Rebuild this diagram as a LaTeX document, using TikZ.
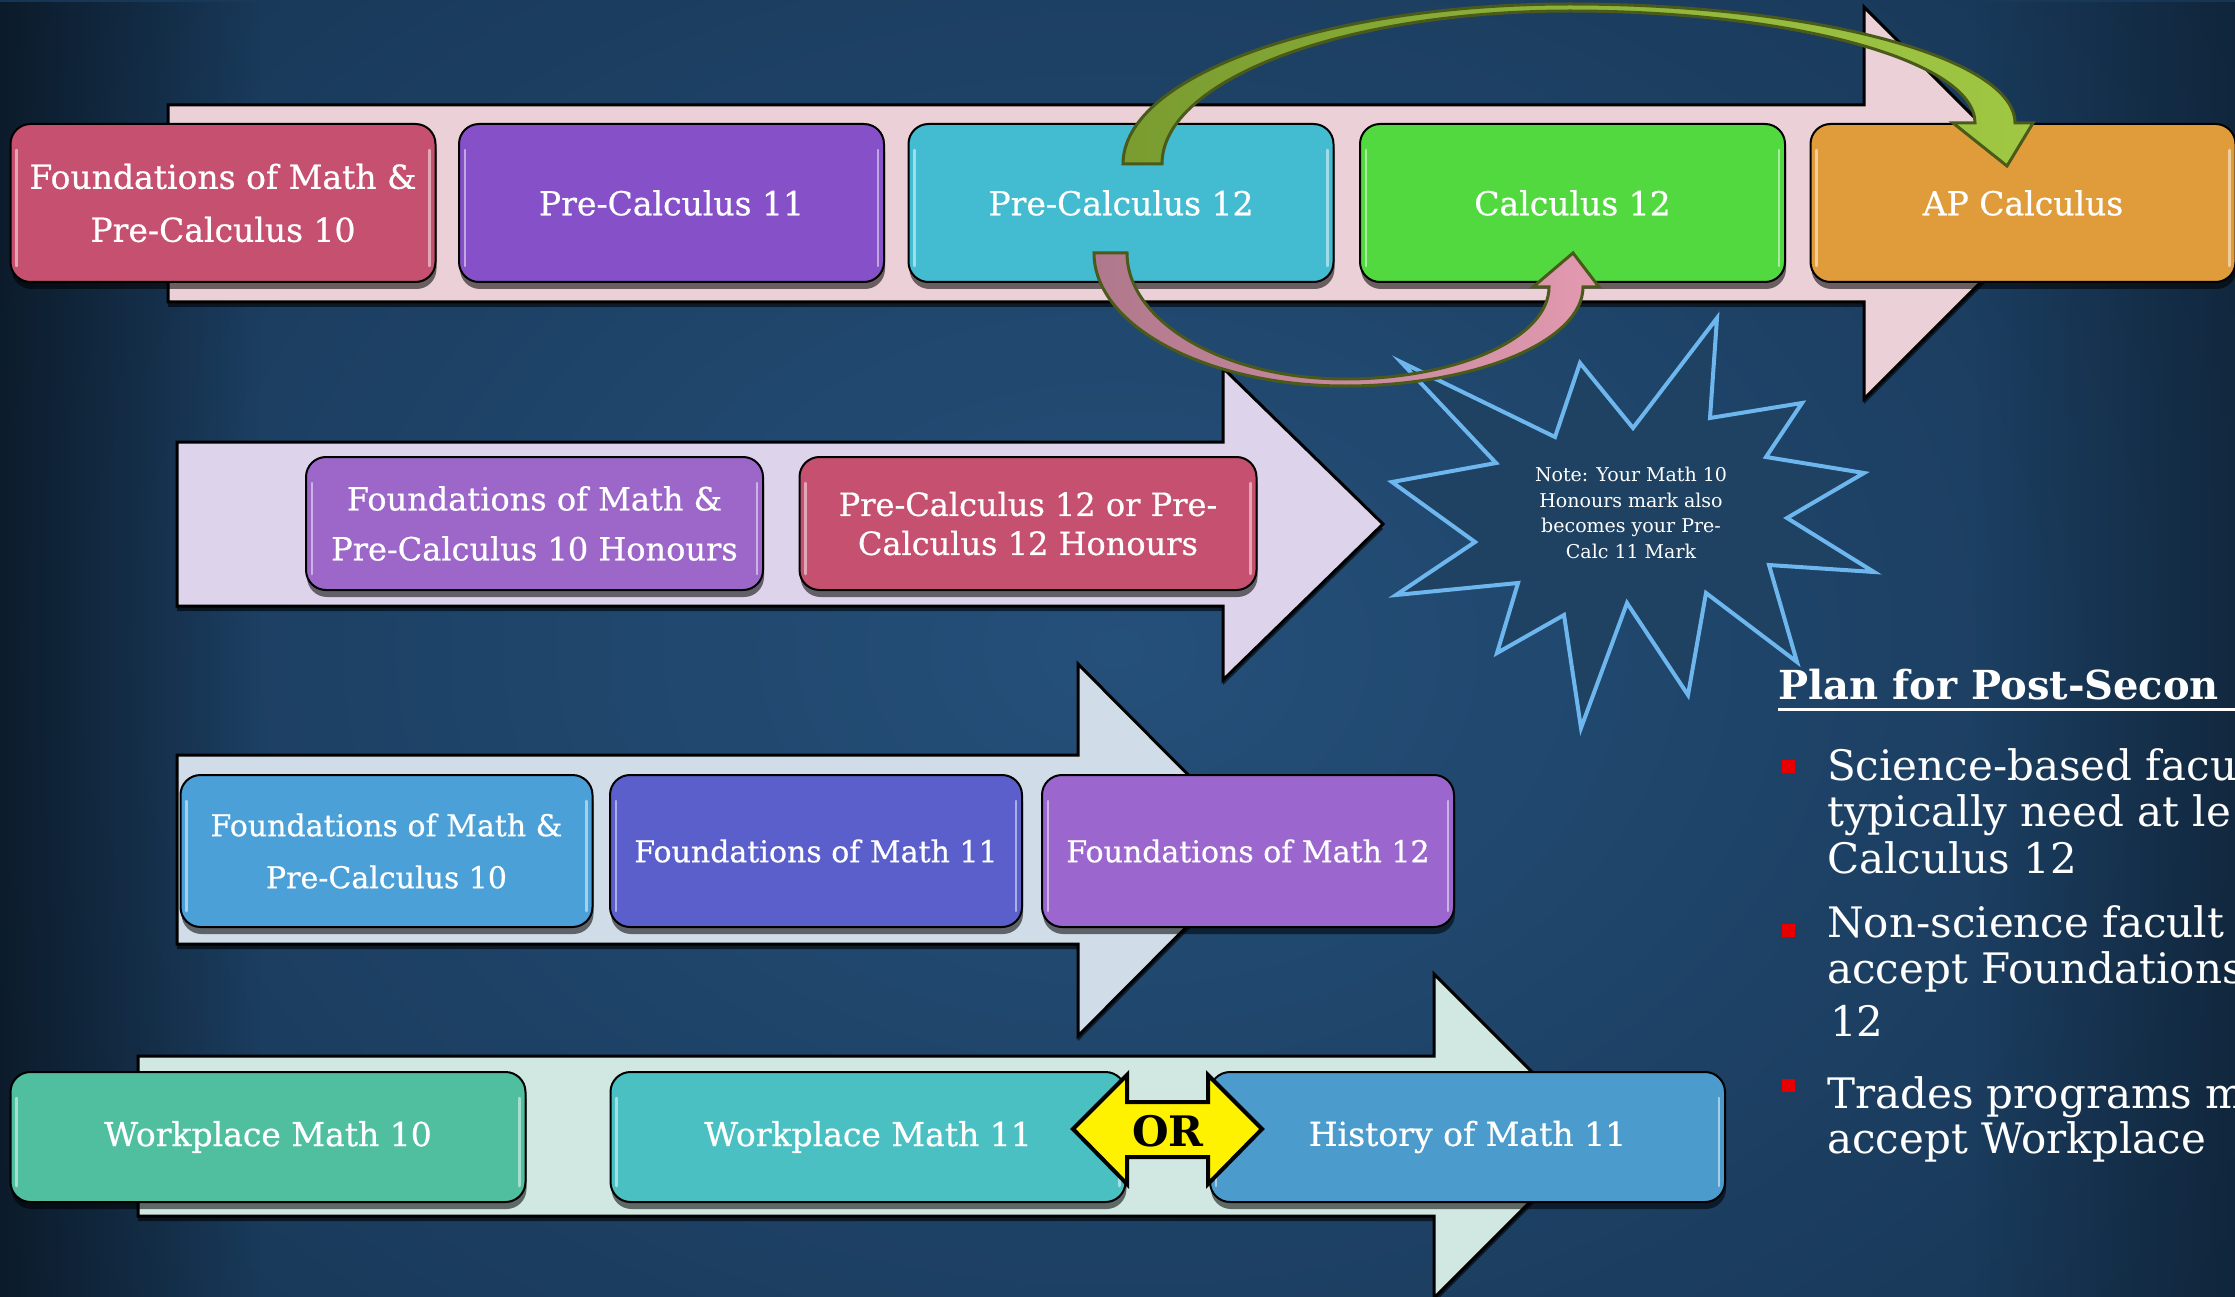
\documentclass[tikz,border=0pt]{standalone}
\usepackage{fontspec}
\setmainfont{DejaVu Serif}
\newfontfamily\boxfont{DejaVu Serif}[FakeBold=0.6]
\usetikzlibrary{shadows,fadings}
\definecolor{bgin}{HTML}{25507A}
\definecolor{bgout}{HTML}{132E4A}
\definecolor{arA}{HTML}{EBD0D7}
\definecolor{arB}{HTML}{DDD3EB}
\definecolor{arC}{HTML}{D0DDE9}
\definecolor{arD}{HTML}{D1E7E1}
\definecolor{cRose}{HTML}{C5506F}
\definecolor{cPurple}{HTML}{8550C8}
\definecolor{cCyan}{HTML}{43BBD1}
\definecolor{cGreen}{HTML}{53D940}
\definecolor{cOrange}{HTML}{E09B3B}
\definecolor{cLilac}{HTML}{9C67C9}
\definecolor{cBlue}{HTML}{4BA0D8}
\definecolor{cIndigo}{HTML}{5A5FCC}
\definecolor{cViolet}{HTML}{9B66CD}
\definecolor{cMint}{HTML}{50BF9F}
\definecolor{cTeal}{HTML}{4BC0C3}
\definecolor{cSky}{HTML}{4B9CCC}
\definecolor{olv}{HTML}{4A5A1A}
\definecolor{grL}{HTML}{7A9C30}
\definecolor{grR}{HTML}{A0C843}
\definecolor{pkL}{HTML}{B0788C}
\definecolor{pkR}{HTML}{E29AB0}
\definecolor{starfill}{HTML}{1F4262}
\definecolor{starline}{HTML}{6DB6EE}
\definecolor{bullred}{HTML}{E80000}
\definecolor{shadeedge}{HTML}{08121C}
\begin{document}
\begin{tikzpicture}[x=1pt,y=-1pt,
  box/.style={draw=black, line width=2pt, rounded corners=20pt, text=white,
    align=center, inner sep=0pt,
    drop shadow={shadow xshift=1pt, shadow yshift=-7pt, opacity=0.55, fill=black},
    path picture={
      \draw[white, opacity=0.5, line width=2.5pt, line cap=round]
        ([xshift=6pt,yshift=-26pt]path picture bounding box.north west) --
        ([xshift=6pt,yshift=16pt]path picture bounding box.south west);
      \draw[white, opacity=0.5, line width=2.5pt, line cap=round]
        ([xshift=-6pt,yshift=-26pt]path picture bounding box.north east) --
        ([xshift=-6pt,yshift=16pt]path picture bounding box.south east);
    }},
  rowone/.style={box, minimum width=425pt, minimum height=158pt, font=\boxfont\fontsize{33}{53}\selectfont},
  rowtwo/.style={box, minimum width=457pt, minimum height=133pt, font=\boxfont\fontsize{32}{50}\selectfont},
  rowthree/.style={box, minimum width=412pt, minimum height=152pt, font=\boxfont\fontsize{30}{52}\selectfont},
  rowfour/.style={box, minimum width=515pt, minimum height=130pt, font=\boxfont\fontsize{33}{40}\selectfont},
  bigarrow/.style={draw=black, line width=3pt, line join=miter,
    drop shadow={shadow xshift=0pt, shadow yshift=-5pt, opacity=0.6, fill=black}},
  curved/.style={draw=olv, line width=3pt, line join=miter},
  bodytext/.style={anchor=base west, text=white, inner sep=0pt, font=\fontsize{42}{45}\selectfont},
  bullet/.style={fill=bullred, draw=none}
]
\useasboundingbox (0,0) rectangle (2235,1297);
\fill[inner color=bgin, outer color=bgout] (-700,-700) rectangle (2935,1997);
\fill[shadeedge, path fading=east, opacity=0.75] (0,0) rectangle (260,1297);
\fill[shadeedge, path fading=west, opacity=0.45] (1975,0) rectangle (2235,1297);

% big background arrows
\path[bigarrow, fill=arA] (168,105) -- (1864,105) -- (1864,7) -- (2060,203) -- (1864,399) -- (1864,302) -- (168,302) -- cycle;
\path[bigarrow, fill=arB] (177,442) -- (1223,442) -- (1223,368) -- (1383,524) -- (1223,680) -- (1223,606) -- (177,606) -- cycle;
\path[bigarrow, fill=arC] (177,755) -- (1078,755) -- (1078,664) -- (1263,850) -- (1078,1036) -- (1078,944) -- (177,944) -- cycle;
\path[bigarrow, fill=arD] (138,1056) -- (1434,1056) -- (1434,974) -- (1596,1136) -- (1434,1298) -- (1434,1216) -- (138,1216) -- cycle;

% row 1
\node[rowone, fill=cRose]   (fpc10) at (223,203)    {Foundations of Math \&\\Pre-Calculus 10};
\node[rowone, fill=cPurple] (pc11)  at (671.5,203)  {Pre-Calculus 11};
\node[rowone, fill=cCyan]   (pc12)  at (1121,203)   {Pre-Calculus 12};
\node[rowone, fill=cGreen]  (calc12) at (1572.5,203) {Calculus 12};
\node[rowone, fill=cOrange] (apc)   at (2023,203)   {AP Calculus};

% row 2
\node[rowtwo, fill=cLilac] (fpch) at (534.5,523.5) {Foundations of Math \&\\Pre-Calculus 10 Honours};
\node[rowtwo, fill=cRose, font=\boxfont\fontsize{32}{39}\selectfont] (pc12h) at (1028,523.5) {Pre-Calculus 12 or Pre-\\Calculus 12 Honours};

% row 3
\node[rowthree, fill=cBlue]   (fpc10b) at (386.5,851) {Foundations of Math \&\\Pre-Calculus 10};
\node[rowthree, fill=cIndigo] (fm11)   at (816,851)   {Foundations of Math 11};
\node[rowthree, fill=cViolet] (fm12)   at (1248,851)  {Foundations of Math 12};

% row 4
\node[rowfour, fill=cMint] (wm10) at (268,1137)    {Workplace Math 10};
\node[rowfour, fill=cTeal] (wm11) at (868,1137)    {Workplace Math 11};
\node[rowfour, fill=cSky]  (hm11) at (1467.5,1137) {History of Math 11};

% OR double arrow
\path[draw=black, line width=4pt, fill=yellow, line join=miter]
  (1073,1129) -- (1127,1075) -- (1127,1102) -- (1208,1102) -- (1208,1075) -- (1262,1129)
  -- (1208,1184) -- (1208,1157) -- (1127,1157) -- (1127,1184) -- cycle;
\node[font=\fontsize{42}{42}\selectfont\bfseries, text=black, inner sep=0pt] (ortext) at (1168,1131) {OR};

% starburst note
\path[draw=starline, fill=starfill, line width=4pt, line join=miter]
  (1401,362) -- (1555,437) -- (1580,363) -- (1633,428) -- (1717,318) -- (1710,418)
  -- (1802,403) -- (1766,457) -- (1864,473) -- (1787,518) -- (1874,572) -- (1769,565)
  -- (1797,662) -- (1706,593) -- (1688,695) -- (1627,603) -- (1581,728) -- (1564,615)
  -- (1497,653) -- (1518,583) -- (1396,595) -- (1475,542) -- (1392,482) -- (1496,463) -- cycle;
\node[text=white, align=center, inner sep=0pt, font=\fontsize{19}{25.6}\selectfont] (note) at (1631,513)
  {Note: Your Math 10\\Honours mark also\\becomes your Pre-\\Calc 11 Mark};

% green curved arrow (Pre-Calculus 12 to AP Calculus)
\path[curved, left color=grL, right color=grR]
  (1123,164) .. controls (1123,76) and (1323,4) .. (1570,4)
  .. controls (1815,4) and (2015,58) .. (2015,123)
  -- (2033,123) -- (2007,166) -- (1953,123) -- (1975,123)
  .. controls (1975,61) and (1793,11) .. (1570,11)
  .. controls (1346,11) and (1162,79) .. (1162,164) -- cycle;

% pink curved arrow (Pre-Calculus 12 to Calculus 12)
\path[curved, left color=pkL, right color=pkR]
  (1094,253) .. controls (1094,326) and (1207,386) .. (1345,386)
  .. controls (1476,386) and (1583,341) .. (1583,287)
  -- (1599,287) -- (1573,253) -- (1533,287) -- (1549,287)
  .. controls (1549,338) and (1457,379) .. (1345,379)
  .. controls (1225,379) and (1127,322) .. (1127,253) -- cycle;

% right-hand text
\node[anchor=base west, text=white, inner sep=0pt, font=\fontsize{40}{42}\selectfont\bfseries] (plan) at (1778,699) {Plan for Post-Secon};
\draw[white, line width=3pt] (1778,709) -- (2240,709);

\fill[bullet] (1782,760) rectangle (1795,773);
\node[bodytext] (s1) at (1827,780) {Science-based facu};
\node[bodytext] (s2) at (1827,826) {typically need at le};
\node[bodytext] (s3) at (1827,873) {Calculus 12};

\fill[bullet] (1782,924) rectangle (1795,937);
\node[bodytext] (n1) at (1827,937) {Non-science facult};
\node[bodytext] (n2) at (1827,983) {accept Foundations};
\node[bodytext] (n3) at (1830,1036) {12};

\fill[bullet] (1782,1079) rectangle (1795,1092);
\node[bodytext] (t1) at (1827,1108) {Trades programs m};
\node[bodytext] (t2) at (1827,1153) {accept Workplace};
\end{tikzpicture}
\end{document}
